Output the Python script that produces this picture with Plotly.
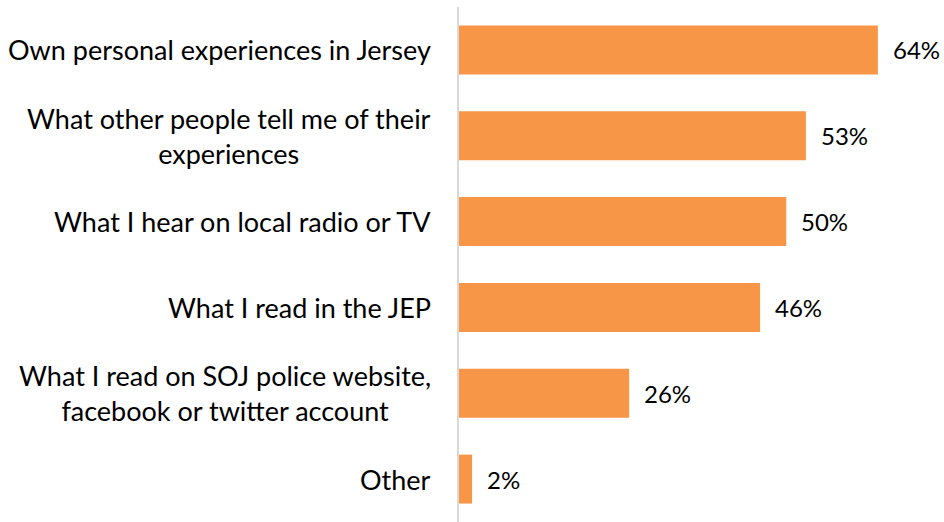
import plotly.graph_objects as go

# Survey: sources of information about the police
categories = [
    "Own personal experiences in Jersey",
    "What other people tell me of their<br>experiences",
    "What I hear on local radio or TV",
    "What I read in the JEP",
    "What I read on SOJ police website,<br>facebook or twitter account",
    "Other",
]
values = [64, 53, 50, 46, 26, 2]
value_labels = ["64%", "53%", "50%", "46%", "26%", "2%"]

BAR_COLOR = "#F79646"
FONT = "Lato"
LABEL_SIZE = 27
VALUE_SIZE = 24

fig = go.Figure(
    go.Bar(
        x=values,
        y=list(range(len(categories))),
        orientation="h",
        marker=dict(color=BAR_COLOR, line=dict(width=0)),
        width=0.57,
        hoverinfo="skip",
    )
)

annotations = []
for i, (cat, v, lab) in enumerate(zip(categories, values, value_labels)):
    # category label, lines centred within the block
    annotations.append(dict(
        x=0, y=i, xref="x", yref="y", text=cat, showarrow=False,
        xanchor="right", yanchor="middle", align="center", xshift=-26,
        font=dict(family=FONT, size=LABEL_SIZE, color="#000000"),
    ))
    # value label beyond the bar end
    annotations.append(dict(
        x=v, y=i, xref="x", yref="y", text=lab, showarrow=False,
        xanchor="left", yanchor="middle", xshift=13,
        font=dict(family=FONT, size=VALUE_SIZE, color="#000000"),
    ))

fig.update_layout(
    width=944, height=522,
    margin=dict(l=459, r=0, t=7, b=0),
    paper_bgcolor="white", plot_bgcolor="white",
    showlegend=False,
    annotations=annotations,
    xaxis=dict(range=[0, 74.1], showgrid=False, zeroline=False,
               showticklabels=False, showline=False, fixedrange=True),
    yaxis=dict(range=[5.5, -0.5], showgrid=False, zeroline=False,
               showticklabels=False, showline=True, linecolor="#D9D9D9",
               linewidth=2, ticks="", fixedrange=True),
)

fig.write_html("out.html")
